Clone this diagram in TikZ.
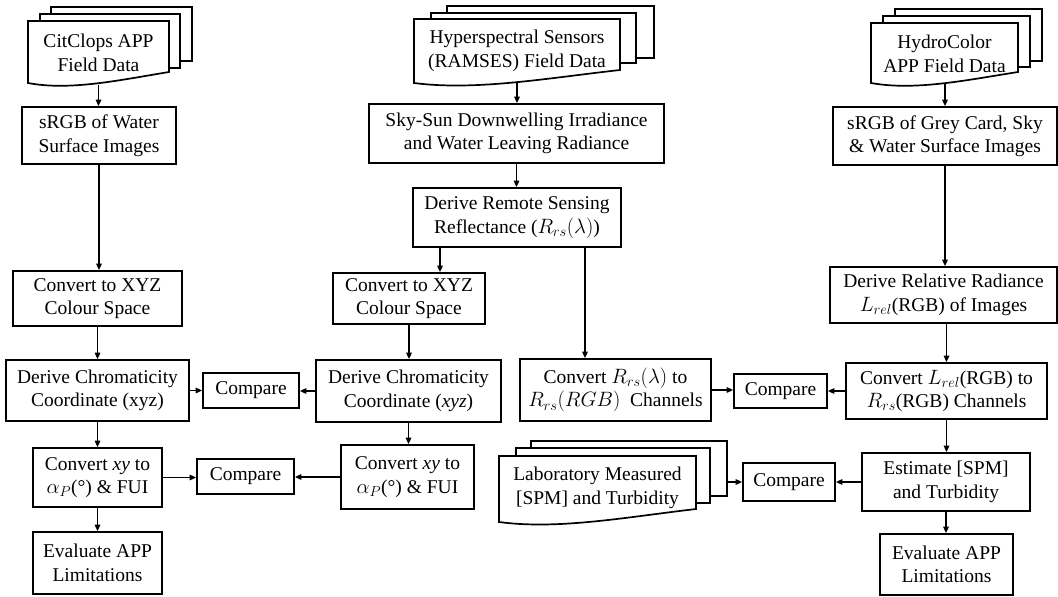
\documentclass[tikz,border=0pt]{standalone}
\usepackage{fontspec}
\setmainfont{Liberation Serif}
\usetikzlibrary{arrows.meta}
\newcommand\diagfont{\fontsize{19.5}{23.5}\selectfont}
\begin{document}
\begin{tikzpicture}[x=1pt,y=-1pt,
  box/.style={draw, line width=1.7pt, fill=white, inner sep=0pt, align=center, font=\diagfont},
  sz/.style 2 args={minimum width=#1pt, minimum height=#2pt},
  doctext/.style={inner sep=0pt, align=center, font=\diagfont},
  sheet/.style={draw, line width=1.7pt, fill=white},
  arr/.style={line width=1.5pt, -{Triangle[length=6.5pt,width=5.5pt]}}]
\useasboundingbox (0,0) rectangle (1058,597);

% ---- document stacks ----
\draw[sheet] (51,7) rectangle (192,61);
\draw[sheet] (40,14) rectangle (180,68);
\draw[sheet] (28,21) -- (169,21) -- (169,72) .. controls (120,80) and (70,91) .. (28,83) -- cycle;
\node[doctext, sz={141}{64}] (docC) at (98.5,53) {CitClops APP\\Field Data};

\draw[sheet] (447,6) rectangle (654,58);
\draw[sheet] (431,13) rectangle (636,63);
\draw[sheet] (414,19) -- (620,19) -- (620,70) .. controls (548,78) and (476,91) .. (414,83) -- cycle;
\node[doctext, sz={206}{62}] (docH) at (517,51) {Hyperspectral Sensors\\(RAMSES) Field Data};

\draw[sheet] (895,9) rectangle (1042,61);
\draw[sheet] (883,16) rectangle (1030,67);
\draw[sheet] (871,23) -- (1018,23) -- (1018,72) .. controls (967,80) and (915,91) .. (871,83) -- cycle;
\node[doctext, sz={147}{58}] (docHC) at (944.5,54) {HydroColor\\APP Field Data};

\draw[sheet] (531,441) rectangle (727,496);
\draw[sheet] (516,448) rectangle (710,503);
\draw[sheet] (499,456) -- (696,456) -- (696,509) .. controls (627,517) and (558,530) .. (499,522) -- cycle;
\node[doctext, sz={259}{40}] (lab) at (597.5,488) {Laboratory Measured\\{[SPM]} and Turbidity};

% ---- left column ----
\node[box, sz={154}{57}] (srgbL) at (99,135.5) {sRGB of Water\\Surface Images};
\node[box, sz={169}{55}] (xyzL) at (97.5,298.5) {Convert to XYZ\\Colour Space};
\node[box, sz={183}{61}] (chromL) at (97.5,390.5) {Derive Chromaticity\\Coordinate (xyz)};
\node[box, sz={129}{59}] (xyL) at (97.5,477.5) {Convert \textit{xy} to\\$\alpha_P$(°) \& FUI};
\node[box, sz={129}{62}] (evalL) at (97.5,563) {Evaluate APP\\Limitations};
\node[box, sz={96}{35}] (cmp1) at (251,390.5) {Compare};
\node[box, sz={97}{35}] (cmp2) at (245.5,476.5) {Compare};

% ---- middle column ----
\node[box, sz={295}{59}] (skysun) at (516.5,133.5) {Sky-Sun Downwelling Irradiance\\and Water Leaving Radiance};
\node[box, sz={208}{59}] (rrs) at (517,217.5) {Derive Remote Sensing\\Reflectance ($R_{rs}(\lambda)$)};
\node[box, sz={152}{51}] (xyzM) at (409,298.5) {Convert to XYZ\\Colour Space};
\node[box, sz={185}{62}] (chromM) at (408.5,391) {Derive Chromaticity\\Coordinate (\textit{xyz})};
\node[box, sz={133}{64}] (xyM) at (407.5,477) {Convert \textit{xy} to\\$\alpha_P$(°) \& FUI};
\node[box, sz={191}{62}] (convRrs) at (615.5,390) {Convert $R_{rs}(\lambda)$ to\\$R_{rs}(RGB)$\ \ Channels};
\node[box, sz={93}{34}] (cmp3) at (780.5,391) {Compare};
\node[box, sz={92}{38}] (cmp4) at (789,482) {Compare};

% ---- right column ----
\node[box, sz={224}{58}] (srgbR) at (945,136) {sRGB of Grey Card, Sky\\\& Water Surface Images};
\node[box, sz={227}{56}] (relR) at (943.5,295) {Derive Relative Radiance\\$L_{rel}$(RGB) of Images};
\node[box, sz={201}{56}] (lrel) at (946.5,391) {Convert $L_{rel}$(RGB) to\\$R_{rs}$(RGB) Channels};
\node[box, sz={168}{58}] (spm) at (946,482) {Estimate [SPM]\\and Turbidity};
\node[box, sz={133}{61}] (evalR) at (946.5,564.5) {Evaluate APP\\Limitations};

% ---- connectors ----
\draw[arr] (docC.south) -- (docC.south |- srgbL.north);
\draw[arr] (srgbL.south) -- (srgbL.south |- xyzL.north);
\draw[arr] (xyzL.south) -- (chromL.north);
\draw[arr] (chromL.south) -- (xyL.north);
\draw[arr] (xyL.south) -- (evalL.north);
\draw[arr] (chromL.east) -- (chromL.east -| cmp1.west);
\draw[arr] (chromM.west) -- (chromM.west -| cmp1.east);
\draw[arr] (xyL.east) -- (xyL.east -| cmp2.west);
\draw[arr] (xyM.west) -- (xyM.west -| cmp2.east);

\draw[arr] (docH.south) -- (docH.south |- skysun.north);
\draw[arr] (skysun.south) -- (skysun.south |- rrs.north);
\draw[arr] ([xshift=-77pt]rrs.south) -- ([xshift=-77pt]rrs.south |- xyzM.north);
\draw[arr] ([xshift=68pt]rrs.south) -- ([xshift=68pt]rrs.south |- convRrs.north);
\draw[arr] (xyzM.south) -- (xyzM.south |- chromM.north);
\draw[arr] (chromM.south) -- (chromM.south |- xyM.north);
\draw[arr] (convRrs.east) -- (convRrs.east -| cmp3.west);
\draw[arr] (lrel.west) -- (lrel.west -| cmp3.east);

\draw[arr] (docHC.south -| srgbR.north) -- (srgbR.north);
\draw[arr] (srgbR.south) -- (srgbR.south |- relR.north);
\draw[arr] (lrel.north |- relR.south) -- (lrel.north);
\draw[arr] (lrel.south) -- (lrel.south |- spm.north);
\draw[arr] (spm.south) -- (spm.south |- evalR.north);
\draw[arr] (lab.east |- cmp4.west) -- (cmp4.west);
\draw[arr] (spm.west) -- (spm.west -| cmp4.east);
\end{tikzpicture}
\end{document}
